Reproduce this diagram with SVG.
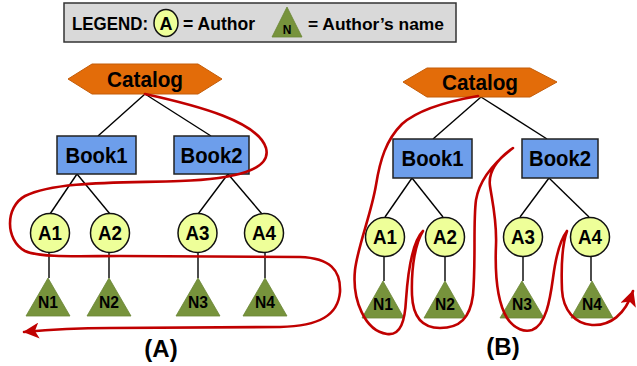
<svg xmlns="http://www.w3.org/2000/svg" width="637" height="366" viewBox="0 0 637 366">
<style>
text{font-family:"Liberation Sans",Arial,sans-serif;font-weight:bold;fill:#000;text-anchor:middle}
.hex{fill:#e36c09;stroke:#c45c08;stroke-width:1}
.book{fill:#6d9eeb;stroke:#222;stroke-width:1.5}
.auth{fill:#eeff99;stroke:#111;stroke-width:1.5}
.name{fill:#77933c;stroke:#6a8535;stroke-width:0.8}
.edge{stroke:#000;stroke-width:1.4;fill:none}
.trav{stroke:#c00000;stroke-width:2.6;fill:none;stroke-linecap:round;stroke-linejoin:round}
.big{font-size:22px}
.a{font-size:20px}
.n{font-size:16px}
.lbl{font-size:24px}
.leg{font-size:17.5px;text-anchor:start}
</style>
<defs>
<marker id="arr" markerUnits="userSpaceOnUse" markerWidth="18" markerHeight="16" viewBox="0 0 18 16" refX="15" refY="8" orient="auto">
<path d="M0,0 L16,8 L0,16 L4,8 Z" fill="#c00000"/>
</marker>
</defs>

<g id="legend">
<rect x="64" y="3" width="392" height="39" fill="#d9d9d9" stroke="#333" stroke-width="1.5"/>
<text class="leg" x="72" y="29.5" textLength="76" lengthAdjust="spacingAndGlyphs">LEGEND:</text>
<ellipse cx="166" cy="23" rx="12" ry="13.5" class="auth"/>
<text x="166" y="30" style="font-size:19px" textLength="13" lengthAdjust="spacingAndGlyphs">A</text>
<text class="leg" x="183" y="29.5" textLength="72" lengthAdjust="spacingAndGlyphs">= Author</text>
<polygon points="287,7 302,37 272,37" class="name"/>
<text x="287" y="34" style="font-size:12px">N</text>
<text class="leg" x="308" y="29.5" style="font-size:17px" textLength="136" lengthAdjust="spacingAndGlyphs">= Author’s name</text>
</g>

<g id="connectors">
<line class="edge" x1="145" y1="94" x2="98" y2="136"/>
<line class="edge" x1="145" y1="94" x2="211" y2="136"/>
<line class="edge" x1="77" y1="174" x2="50" y2="214"/>
<line class="edge" x1="77" y1="174" x2="110" y2="214"/>
<line class="edge" x1="228" y1="174" x2="198" y2="214"/>
<line class="edge" x1="228" y1="174" x2="262" y2="214"/>
<line class="edge" x1="49" y1="252" x2="49" y2="278"/>
<line class="edge" x1="109" y1="252" x2="109" y2="278"/>
<line class="edge" x1="198" y1="252" x2="198" y2="278"/>
<line class="edge" x1="265" y1="252" x2="265" y2="278"/>

<line class="edge" x1="481" y1="97" x2="433" y2="139"/>
<line class="edge" x1="481" y1="97" x2="547" y2="139"/>
<line class="edge" x1="412" y1="178" x2="385" y2="217"/>
<line class="edge" x1="412" y1="178" x2="443" y2="217"/>
<line class="edge" x1="549" y1="178" x2="520" y2="217"/>
<line class="edge" x1="549" y1="178" x2="589" y2="217"/>
<line class="edge" x1="384" y1="257" x2="384" y2="281"/>
<line class="edge" x1="445" y1="257" x2="445" y2="281"/>
<line class="edge" x1="523" y1="257" x2="523" y2="281"/>
<line class="edge" x1="591" y1="257" x2="591" y2="281"/>
</g>

<g id="treeA">
<g id="A-catalog"><polygon class="hex" points="68,79 92,64 198,64 222,79 198,94 92,94"/><text class="big" x="145" y="87" textLength="76" lengthAdjust="spacingAndGlyphs">Catalog</text></g>
<g id="A-book1"><rect class="book" x="57" y="136" width="79" height="38"/><text class="big" x="96.5" y="163" textLength="62" lengthAdjust="spacingAndGlyphs">Book1</text></g>
<g id="A-book2"><rect class="book" x="174" y="136" width="75" height="38"/><text class="big" x="211.5" y="163" textLength="62" lengthAdjust="spacingAndGlyphs">Book2</text></g>
<g id="A-a1"><circle class="auth" cx="50" cy="233" r="19.5"/><text class="a" x="50" y="240" textLength="24" lengthAdjust="spacingAndGlyphs">A1</text></g>
<g id="A-a2"><circle class="auth" cx="110" cy="233" r="19.5"/><text class="a" x="110" y="240" textLength="24" lengthAdjust="spacingAndGlyphs">A2</text></g>
<g id="A-a3"><circle class="auth" cx="197.5" cy="233" r="19.5"/><text class="a" x="197.5" y="240" textLength="24" lengthAdjust="spacingAndGlyphs">A3</text></g>
<g id="A-a4"><circle class="auth" cx="264" cy="233" r="19.5"/><text class="a" x="264" y="240" textLength="24" lengthAdjust="spacingAndGlyphs">A4</text></g>
<g id="A-n1"><polygon class="name" points="48,278 70,316 26,316"/><text class="n" x="48" y="308" textLength="20" lengthAdjust="spacingAndGlyphs">N1</text></g>
<g id="A-n2"><polygon class="name" points="109,278 131,316 87,316"/><text class="n" x="109" y="308" textLength="20" lengthAdjust="spacingAndGlyphs">N2</text></g>
<g id="A-n3"><polygon class="name" points="198,278 220,316 176,316"/><text class="n" x="198" y="308" textLength="20" lengthAdjust="spacingAndGlyphs">N3</text></g>
<g id="A-n4"><polygon class="name" points="265,278 287,316 243,316"/><text class="n" x="265" y="308" textLength="20" lengthAdjust="spacingAndGlyphs">N4</text></g>
<text class="lbl" x="161" y="357">(A)</text>
</g>

<g id="treeB">
<g id="B-catalog"><polygon class="hex" points="403,82 427,68 530,68 557,82 530,97 427,97"/><text class="big" x="480" y="90" textLength="76" lengthAdjust="spacingAndGlyphs">Catalog</text></g>
<g id="B-book1"><rect class="book" x="393" y="139" width="79" height="39"/><text class="big" x="432.5" y="166" textLength="62" lengthAdjust="spacingAndGlyphs">Book1</text></g>
<g id="B-book2"><rect class="book" x="522" y="139" width="76" height="39"/><text class="big" x="560" y="166" textLength="62" lengthAdjust="spacingAndGlyphs">Book2</text></g>
<g id="B-a1"><circle class="auth" cx="385" cy="237" r="19.5"/><text class="a" x="385" y="244" textLength="24" lengthAdjust="spacingAndGlyphs">A1</text></g>
<g id="B-a2"><circle class="auth" cx="445" cy="237" r="19.5"/><text class="a" x="445" y="244" textLength="24" lengthAdjust="spacingAndGlyphs">A2</text></g>
<g id="B-a3"><circle class="auth" cx="523" cy="237" r="19.5"/><text class="a" x="523" y="244" textLength="24" lengthAdjust="spacingAndGlyphs">A3</text></g>
<g id="B-a4"><circle class="auth" cx="590" cy="237" r="19.5"/><text class="a" x="590" y="244" textLength="24" lengthAdjust="spacingAndGlyphs">A4</text></g>
<g id="B-n1"><polygon class="name" points="383,281 404,318 362,318"/><text class="n" x="383" y="310" textLength="20" lengthAdjust="spacingAndGlyphs">N1</text></g>
<g id="B-n2"><polygon class="name" points="445,281 466,318 424,318"/><text class="n" x="445" y="310" textLength="20" lengthAdjust="spacingAndGlyphs">N2</text></g>
<g id="B-n3"><polygon class="name" points="522,281 544,318 500,318"/><text class="n" x="522" y="310" textLength="20" lengthAdjust="spacingAndGlyphs">N3</text></g>
<g id="B-n4"><polygon class="name" points="592,281 613,318 571,318"/><text class="n" x="592" y="310" textLength="20" lengthAdjust="spacingAndGlyphs">N4</text></g>
<text class="lbl" x="503" y="355">(B)</text>
</g>

<g id="traversals">
<path class="trav" marker-end="url(#arr)" d="M145,94 C200,106 258,122 266,148 C272,170 235,179 180,181 C120,183 55,181 25,196 C5,207 5,240 25,251 C40,258 80,256 120,256 L300,257 C330,258 341,270 340,292 C338,315 320,326 280,327 L110,328 C75,328 45,330 24,332"/>
<path class="trav" marker-end="url(#arr)" d="M478,96 C455,100 420,108 402,124 C386,140 380,160 376,185 C371,215 358,245 355,270 C352,300 365,331 387,334 C401,336 405,320 406,300 C408,270 412,242 423,231 C416,242 411,265 412,295 C413,320 425,328 440,328 C460,328 470,318 473,295 C476,260 473,222 476,200 C479,182 492,164 513,148 C496,160 488,172 490,186 C492,200 497,220 496,245 C495,270 496,300 507,318 C515,330 525,332 532,330 C546,325 550,300 553,278 C556,255 560,240 567,231 C562,245 561,265 562,290 C563,310 575,324 592,325 C610,326 625,315 633,291"/>
</g>
</svg>
